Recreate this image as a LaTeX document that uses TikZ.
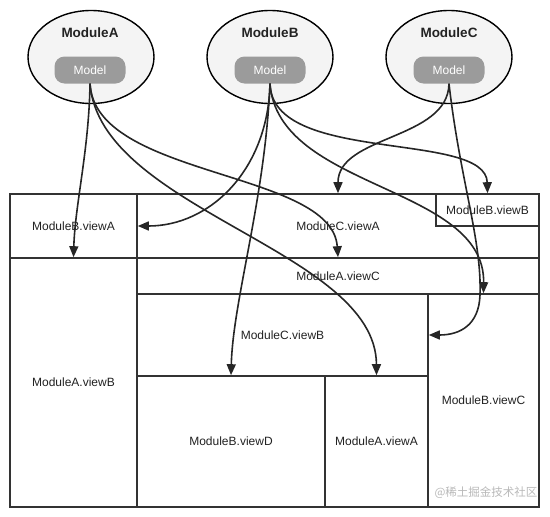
\documentclass[tikz,border=0pt]{standalone}
\usepackage{fontspec}
\setmainfont{Liberation Sans}
\newfontfamily\cjkfont{Noto Sans CJK SC}
\usetikzlibrary{shapes.geometric,arrows.meta}
\definecolor{modfill}{HTML}{F4F4F4}
\definecolor{modelgray}{HTML}{9B9B9B}
\definecolor{boxline}{HTML}{333333}
\definecolor{linkline}{HTML}{262626}
\definecolor{textgray}{HTML}{222222}
\begin{document}
\begin{tikzpicture}[x=1pt,y=-1pt,
    module/.style={ellipse,draw=black,line width=1.4pt,fill=modfill,
        minimum width=126pt,minimum height=93pt,inner sep=0pt},
    title/.style={font=\bfseries\fontsize{13.5}{16}\selectfont,text=textgray},
    model/.style={rounded corners=10pt,fill=modelgray,text=white,inner sep=0pt,
        minimum width=71pt,minimum height=27pt,font=\fontsize{12}{14}\selectfont},
    view/.style={draw=boxline,line width=1.6pt,fill=white,inner sep=0pt,
        text=textgray,font=\fontsize{12}{14}\selectfont},
    link/.style={draw=linkline,line width=1.6pt,-{Triangle[length=11pt,width=9pt]}}]
    \useasboundingbox (0,0) rectangle (550,517);

    % the three modules, each with its model
    \node[module] (modA) at (91,57) {};
    \node[module] (modB) at (270,57) {};
    \node[module] (modC) at (449,57) {};
    \node[title] (titleA) at (90,33) {ModuleA};
    \node[title] (titleB) at (270,33) {ModuleB};
    \node[title] (titleC) at (449,33) {ModuleC};
    \node[model] (mdlA) at (90,70) {Model};
    \node[model] (mdlB) at (270,70) {Model};
    \node[model] (mdlC) at (449,70) {Model};

    % the page, split into views
    % top row: 194 to 258
    \node[view,minimum width=127pt,minimum height=64pt] (BviewA) at (73.5,226) {ModuleB.viewA};
    \node[view,minimum width=402pt,minimum height=64pt] (CviewA) at (338,226) {ModuleC.viewA};
    \node[view,minimum width=103pt,minimum height=32pt] (BviewB) at (487.5,210) {ModuleB.viewB};
    % left column and the band below the top row
    \node[view,minimum width=127pt,minimum height=249pt] (AviewB) at (73.5,382.5) {ModuleA.viewB};
    \node[view,minimum width=402pt,minimum height=36pt] (AviewC) at (338,276) {ModuleA.viewC};
    % the rest
    \node[view,minimum width=291pt,minimum height=82pt] (CviewB) at (282.5,335) {ModuleC.viewB};
    \node[view,minimum width=111pt,minimum height=213pt] (BviewC) at (483.5,400.5) {ModuleB.viewC};
    \node[view,minimum width=188pt,minimum height=131pt] (BviewD) at (231,441.5) {ModuleB.viewD};
    \node[view,minimum width=103pt,minimum height=131pt] (AviewA) at (376.5,441.5) {ModuleA.viewA};

    % who feeds which view
    \draw[link] (mdlA.south) .. controls (89,150) and (75,205) .. (AviewB.north);
    \draw[link] (mdlA.south) .. controls (95,178) and (332,170) .. (AviewC.north);
    \draw[link] (mdlA.south) .. controls (100,210) and (376,250) .. (AviewA.north);
    \draw[link] (mdlB.south) .. controls (268,170) and (210,226) .. (BviewA.east);
    \draw[link] (mdlB.south) .. controls (272,165) and (486,130) .. (BviewB.north);
    \draw[link] (mdlB.south) .. controls (278,190) and (485,185) .. (BviewC.north);
    \draw[link] (mdlB.south) .. controls (265,200) and (233,300) .. (BviewD.north);
    \draw[link] (mdlC.south) .. controls (448,140) and (338,135) .. (CviewA.north);
    \draw[link] (mdlC.south) .. controls (460,180) and (482,240) .. (480,295)
        .. controls (479,325) and (460,335) .. (CviewB.east);

    % watermark
    \node[font=\cjkfont\fontsize{11.5}{13}\selectfont,text=gray!55] (mark) at (486,493) {@稀土掘金技术社区};
\end{tikzpicture}
\end{document}
